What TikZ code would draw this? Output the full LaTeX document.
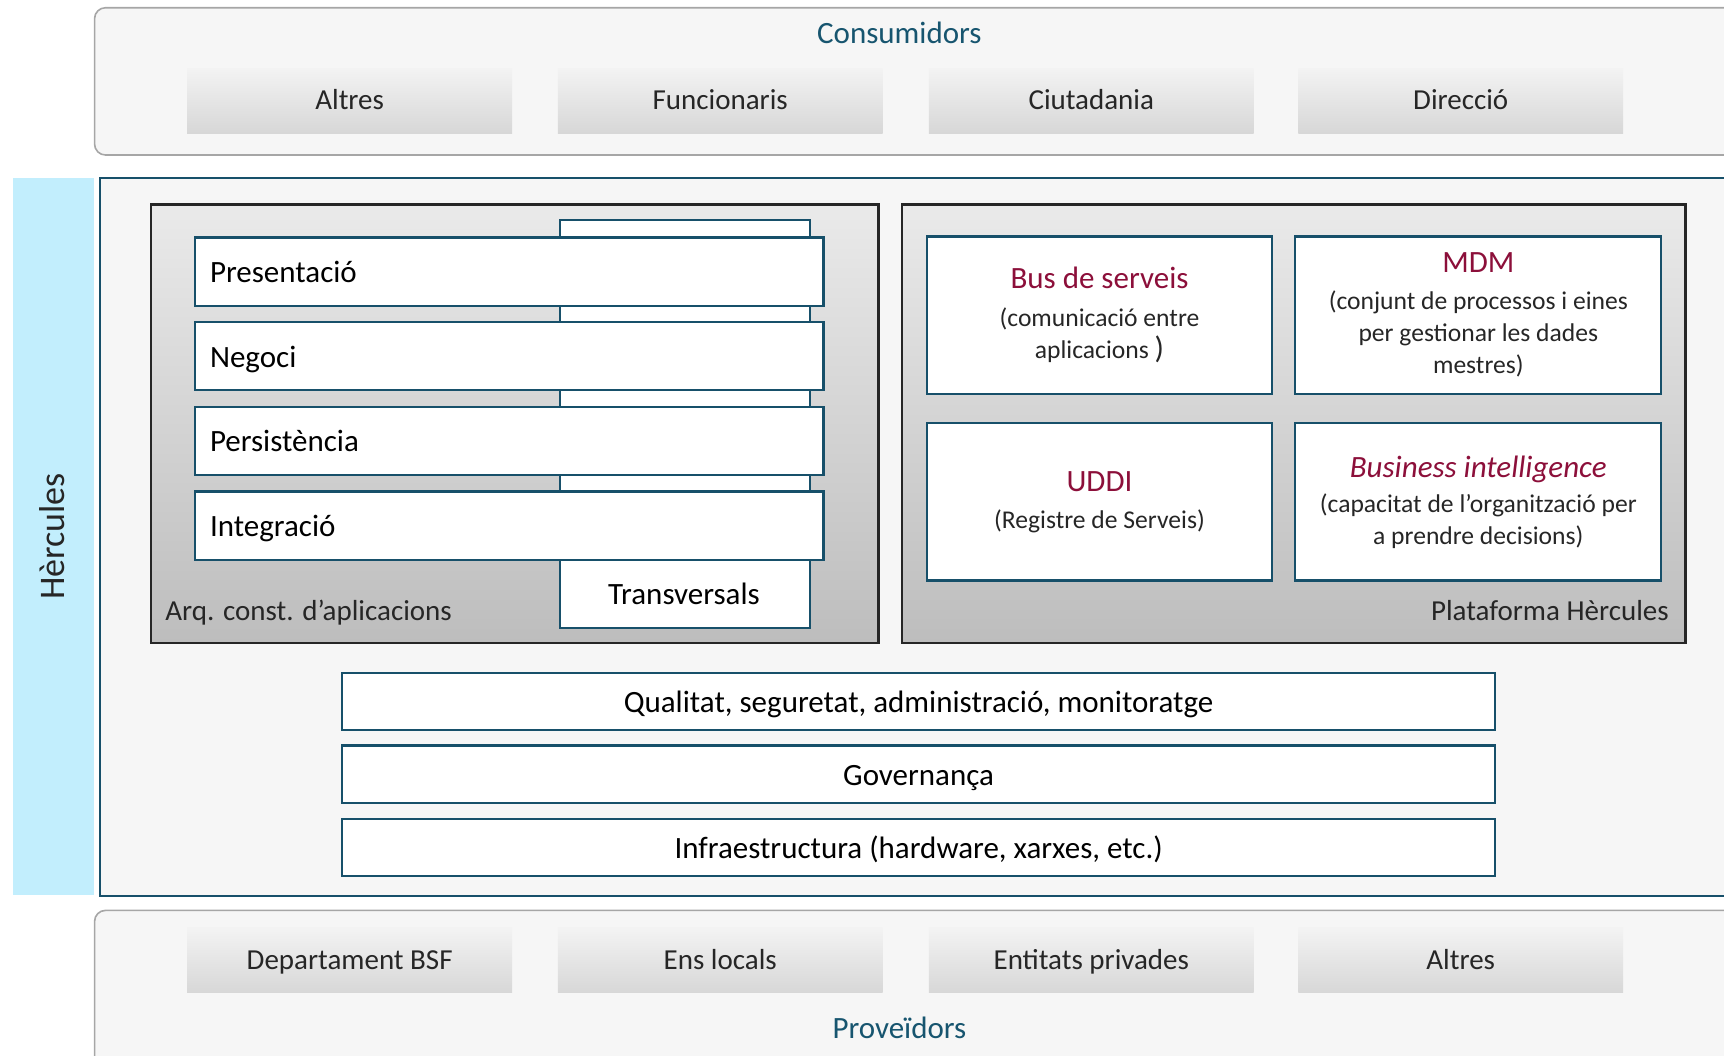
\documentclass[tikz,border=0pt]{standalone}
\usepackage{fontspec}
\setmainfont{Carlito}
\definecolor{hercolor0000}{RGB}{246,246,246}
\definecolor{hercolor0001}{RGB}{166,166,166}
\definecolor{hercolor0002}{RGB}{243,243,243}
\definecolor{hercolor0003}{RGB}{215,215,215}
\definecolor{hercolor0004}{RGB}{23,85,111}
\definecolor{hercolor0005}{RGB}{23,80,106}
\definecolor{hercolor0006}{RGB}{194,238,253}
\definecolor{hercolor0007}{RGB}{234,234,234}
\definecolor{hercolor0008}{RGB}{189,189,189}
\definecolor{hercolor0009}{RGB}{140,15,58}
\definecolor{hercolor0010}{RGB}{38,38,38}
\begin{document}
\begin{tikzpicture}[yscale=-1
,hstyle0/.style={draw=hercolor0001,fill=hercolor0000,line width=0.8pt,rounded corners=5.5pt,inner sep=0pt}
,hstyle1/.style={inner sep=0pt,minimum width=162.5pt,minimum height=32.5pt,text height=11.5pt,text depth=2.5pt,top color=hercolor0002,bottom color=hercolor0003,text=hercolor0010,font=\fontsize{14.5}{17}\selectfont}
,hstyle2/.style={draw=hercolor0005,fill=white,line width=1.1pt,inner sep=0pt}
,hstyle3/.style={draw=black!85,line width=1.1pt,top color=hercolor0007,bottom color=hercolor0008,inner sep=0pt}
,hstyle4/.style={hstyle2,minimum width=314.6pt,minimum height=34.1pt,text width=299.2pt,text height=13.5pt,text depth=2.5pt,inner xsep=7.7pt,align=left,font=\fontsize{15.5}{18}\selectfont}
,hstyle5/.style={hstyle2,minimum height=78.65pt,align=center,font=\fontsize{12.8}{16}\selectfont,text=hercolor0010}
,hstyle6/.style={hstyle2,minimum width=577pt,minimum height=28.6pt,text height=13.5pt,text depth=2.5pt,font=\fontsize{15.5}{18}\selectfont}
,hstyle7/.style={text=hercolor0004,font=\fontsize{15.5}{18}\selectfont}
,hstyle8/.style={text=hercolor0010,font=\fontsize{14.5}{17}\selectfont}
]
\useasboundingbox (0pt,0pt) rectangle (862.4pt,528pt);
\clip (0pt,0pt) rectangle (862.4pt,528pt);
\node[hstyle0,minimum width=822pt,minimum height=73.7pt] (consumidors) at (458.3pt,40.7pt) {};
\node[hstyle7] (consTitle) at (449.9pt,16.5pt) {Consumidors};
\node[hstyle1] (consAltres) at (174.9pt,50.3pt) {Altres};
\node[hstyle1] (consFunc) at (360.3pt,50.3pt) {Funcionaris};
\node[hstyle1] (consCiut) at (545.9pt,50.3pt) {Ciutadania};
\node[hstyle1] (consDir) at (730.7pt,50.3pt) {Direcció};
\node[fill=hercolor0006,inner sep=0pt,minimum width=40.15pt,minimum height=358.6pt] (band) at (26.7pt,268.4pt) {};
\node[rotate=90,text=hercolor0010,font=\fontsize{18}{21}\selectfont] (bandTitle) at (26pt,268.4pt) {Hèrcules};
\node[draw=hercolor0005,fill=hercolor0000,line width=1.1pt,inner sep=0pt,minimum width=820pt,minimum height=359.15pt] (hercules) at (460pt,268.7pt) {};
\node[hstyle3,minimum width=364.1pt,minimum height=219.45pt] (arq) at (257.4pt,212.05pt) {};
\node[hstyle2,minimum width=125.4pt,minimum height=204.05pt] (transv) at (342.65pt,212.05pt) {};
\node[font=\fontsize{15.5}{18}\selectfont] (transvText) at (342.1pt,297pt) {Transversals};
\node[hstyle4] (presentacio) at (254.65pt,135.85pt) {Presentació};
\node[hstyle4] (negoci) at (254.65pt,178.2pt) {Negoci};
\node[hstyle4] (persistencia) at (254.65pt,220.55pt) {Persistència};
\node[hstyle4] (integracio) at (254.65pt,262.9pt) {Integració};
\node[hstyle8,anchor=base west,inner sep=0pt] (arqTitle) at (82.5pt,310.6pt) {Arq. const. d’aplicacions};
\node[hstyle3,minimum width=392.15pt,minimum height=219.45pt] (plataforma) at (647.1pt,212.05pt) {};
\node[hstyle5,minimum width=172.7pt] (bus) at (550pt,157.6pt) {{\color{hercolor0009}\fontsize{15.5}{18}\selectfont Bus de serveis}\\[3pt](comunicació entre\\aplicacions {\fontsize{15.5}{18}\selectfont)}};
\node[hstyle5,minimum width=183.15pt] (mdm) at (739.5pt,157.6pt) {{\color{hercolor0009}\fontsize{15.5}{18}\selectfont MDM}\\[2.5pt](conjunt de processos i eines\\per gestionar les dades\\mestres)};
\node[hstyle5,minimum width=172.7pt] (uddi) at (550pt,251.1pt) {{\color{hercolor0009}\fontsize{15.5}{18}\selectfont UDDI}\\[2.5pt](Registre de Serveis)};
\node[hstyle5,minimum width=183.15pt] (bi) at (739.5pt,251.1pt) {{\color{hercolor0009}\fontsize{15.5}{18}\selectfont\itshape Business intelligence}\\[1.5pt](capacitat de l’organització per\\a prendre decisions)};
\node[hstyle8,anchor=base east,inner sep=0pt] (platTitle) at (834.9pt,310.6pt) {Plataforma Hèrcules};
\node[hstyle6] (qualitat) at (459.5pt,350.9pt) {Qualitat, seguretat, administració, monitoratge};
\node[hstyle6] (governanca) at (459.5pt,387.2pt) {Governança};
\node[hstyle6] (infra) at (459.5pt,424.05pt) {Infraestructura (hardware, xarxes, etc.)};
\node[hstyle0,minimum width=822pt,minimum height=84.6pt] (proveidors) at (458.3pt,497.7pt) {};
\node[hstyle1] (provDept) at (174.9pt,480.4pt) {Departament BSF};
\node[hstyle1] (provEns) at (360.3pt,480.4pt) {Ens locals};
\node[hstyle1] (provEnt) at (545.9pt,480.4pt) {Entitats privades};
\node[hstyle1] (provAltres) at (730.7pt,480.4pt) {Altres};
\node[hstyle7] (provTitle) at (449.9pt,514.25pt) {Proveïdors};
\end{tikzpicture}
\end{document}
